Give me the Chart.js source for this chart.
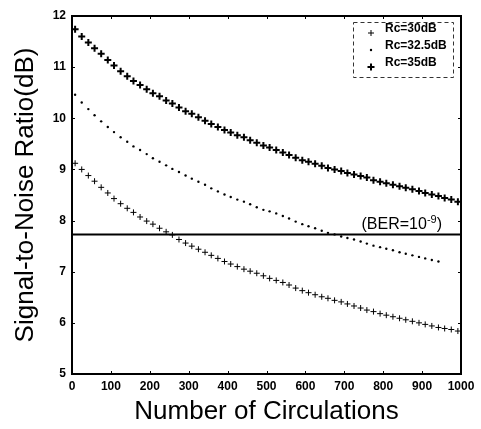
<!DOCTYPE html>
<html>
<head>
<meta charset="utf-8">
<script src="https://cdn.jsdelivr.net/npm/chart.js@4.4.1/dist/chart.umd.min.js"></script>
<style>
body { margin: 0; background: #fff; }
</style>
</head>
<body>
<canvas id="snr-chart" width="481" height="429"></canvas>
<script>
const circulations = [8, 25, 42, 58, 75, 92, 108, 125, 142, 158, 175, 192, 208, 225, 242, 258, 275, 292, 308, 325,
    342, 358, 375, 392, 408, 425, 442, 458, 475, 492, 508, 525, 542, 558, 575, 592, 608, 625, 642, 658,
    675, 692, 708, 725, 742, 758, 775, 792, 808, 825, 842, 858, 875, 892, 908, 925, 942, 958, 975, 992]

const rc30 = [9.12, 9.00, 8.88, 8.77, 8.65, 8.54, 8.43, 8.33, 8.24, 8.16, 8.07, 7.99, 7.93, 7.85, 7.78, 7.72, 7.63, 7.56, 7.50, 7.44,
    7.38, 7.32, 7.26, 7.20, 7.15, 7.10, 7.05, 7.01, 6.97, 6.92, 6.87, 6.83, 6.79, 6.74, 6.68, 6.63, 6.59, 6.55, 6.51, 6.48,
    6.44, 6.41, 6.37, 6.33, 6.29, 6.25, 6.22, 6.18, 6.15, 6.12, 6.09, 6.06, 6.03, 6.00, 5.97, 5.94, 5.91, 5.89, 5.87, 5.84]

const rc325 = [10.46, 10.31, 10.18, 10.06, 9.94, 9.83, 9.73, 9.63, 9.54, 9.45, 9.38, 9.30, 9.22, 9.15, 9.08, 9.01, 8.95, 8.88, 8.82, 8.76,
    8.70, 8.63, 8.57, 8.51, 8.46, 8.41, 8.37, 8.32, 8.26, 8.21, 8.18, 8.14, 8.09, 8.04, 7.98, 7.93, 7.89, 7.85, 7.80, 7.76,
    7.73, 7.69, 7.66, 7.63, 7.59, 7.55, 7.51, 7.48, 7.45, 7.42, 7.38, 7.35, 7.32, 7.29, 7.26, 7.23, 7.20, null, null, null]

const rc35 = [11.74, 11.60, 11.48, 11.37, 11.26, 11.14, 11.03, 10.92, 10.82, 10.73, 10.65, 10.57, 10.49, 10.43, 10.35, 10.29, 10.21, 10.14, 10.09, 10.02,
    9.95, 9.89, 9.83, 9.77, 9.72, 9.67, 9.63, 9.57, 9.52, 9.47, 9.43, 9.38, 9.33, 9.28, 9.23, 9.18, 9.15, 9.11, 9.07, 9.03,
    9.00, 8.97, 8.93, 8.90, 8.87, 8.84, 8.79, 8.76, 8.73, 8.70, 8.67, 8.64, 8.61, 8.58, 8.54, 8.51, 8.48, 8.44, 8.41, 8.37]

const seriesLabels = ['Rc=30dB', 'Rc=32.5dB', 'Rc=35dB']
const berLevel = 7.73
const berRange = [0, 1000]
const xTicks = [0, 100, 200, 300, 400, 500, 600, 700, 800, 900, 1000]
const yTicks = [5, 6, 7, 8, 9, 10, 11, 12]

function points(values){
    const out = []
    for (let i = 0; i < circulations.length; i++){
        if (values[i] !== null) out.push({x: circulations[i], y: values[i]})
    }
    return out
}

const tickFont = {family: "'Liberation Sans', Arial, sans-serif", size: 12, weight: 'bold'}
const titleFont = {family: "'Liberation Sans', Arial, sans-serif", size: 26, weight: 'normal'}

const frameAndLegend = {
    id: 'frameAndLegend',
    afterDraw(chart){
        const ctx = chart.ctx
        const a = chart.chartArea
        const xs = chart.scales.x
        const ys = chart.scales.y
        ctx.save()

        // frame
        ctx.strokeStyle = '#000'
        ctx.lineWidth = 2
        ctx.strokeRect(a.left, a.top, a.right - a.left, a.bottom - a.top)

        // small inward ticks
        ctx.lineWidth = 1
        ctx.beginPath()
        xTicks.forEach(v => {
            const px = Math.round(xs.getPixelForValue(v)) + 0.5
            ctx.moveTo(px, a.bottom); ctx.lineTo(px, a.bottom - 3)
            ctx.moveTo(px, a.top); ctx.lineTo(px, a.top + 3)
        })
        yTicks.forEach(v => {
            const py = Math.round(ys.getPixelForValue(v)) + 0.5
            ctx.moveTo(a.left, py); ctx.lineTo(a.left + 3, py)
            ctx.moveTo(a.right, py); ctx.lineTo(a.right - 3, py)
        })
        ctx.stroke()

        // BER label
        const lineY = ys.getPixelForValue(berLevel)
        const rightX = xs.getPixelForValue(berRange[1]) - 19
        ctx.fillStyle = '#000'
        ctx.textBaseline = 'alphabetic'
        ctx.textAlign = 'left'
        const mainFont = "16px 'Liberation Sans', Arial, sans-serif"
        const supFont = "11px 'Liberation Sans', Arial, sans-serif"
        ctx.font = mainFont
        const w1 = ctx.measureText('(BER=10').width
        const w3 = ctx.measureText(')').width
        ctx.font = supFont
        const w2 = ctx.measureText('-9').width
        const tx = rightX - (w1 + w2 + w3)
        const ty = lineY - 5
        ctx.font = mainFont
        ctx.fillText('(BER=10', tx, ty)
        ctx.font = supFont
        ctx.fillText('-9', tx + w1, ty - 6)
        ctx.font = mainFont
        ctx.fillText(')', tx + w1 + w2, ty)

        // legend box
        const bx = a.right - 108
        const by = a.top + 6
        ctx.strokeStyle = '#333'
        ctx.lineWidth = 1
        ctx.setLineDash([4, 3])
        ctx.strokeRect(bx + 0.5, by + 0.5, 100, 55)
        ctx.setLineDash([])

        ctx.font = "bold 12px 'Liberation Sans', Arial, sans-serif"
        ctx.textBaseline = 'middle'
        chart.data.datasets.slice(0, 3).forEach((ds, i) => {
            const my = by + 11 + i * 17
            const mx = bx + 18
            ctx.strokeStyle = '#000'
            ctx.fillStyle = '#000'
            if (ds.pointStyle === 'cross'){
                const r = ds.pointRadius
                ctx.lineWidth = ds.pointBorderWidth
                ctx.beginPath()
                ctx.moveTo(mx - r, my); ctx.lineTo(mx + r, my)
                ctx.moveTo(mx, my - r); ctx.lineTo(mx, my + r)
                ctx.stroke()
            } else {
                ctx.beginPath()
                ctx.arc(mx, my, ds.pointRadius, 0, Math.PI * 2)
                ctx.fill()
            }
            ctx.fillText(ds.label, bx + 32, my - 4)
        })
        ctx.restore()
    }
}

new Chart(document.getElementById('snr-chart'), {
    type: 'scatter',
    data: {
        datasets: [
            {
                label: seriesLabels[0],
                data: points(rc30),
                pointStyle: 'cross',
                pointRadius: 3,
                pointBorderWidth: 1,
                borderColor: '#000',
                backgroundColor: '#000',
                showLine: false
            },
            {
                label: seriesLabels[1],
                data: points(rc325),
                pointStyle: 'circle',
                pointRadius: 1.2,
                pointBorderWidth: 0,
                borderColor: '#000',
                backgroundColor: '#000',
                showLine: false
            },
            {
                label: seriesLabels[2],
                data: points(rc35),
                pointStyle: 'cross',
                pointRadius: 3.5,
                pointBorderWidth: 2,
                borderColor: '#000',
                backgroundColor: '#000',
                showLine: false
            },
            {
                label: 'BER',
                data: berRange.map(v => ({x: v, y: berLevel})),
                showLine: true,
                borderColor: '#000',
                borderWidth: 2,
                pointRadius: 0
            }
        ]
    },
    options: {
        responsive: false,
        animation: false,
        devicePixelRatio: 1,
        layout: {padding: {top: 16, right: 20, left: 0, bottom: 0}},
        plugins: {
            legend: {display: false},
            tooltip: {enabled: false}
        },
        scales: {
            x: {
                type: 'linear',
                min: 0,
                max: 1000,
                afterFit: scale => { scale.height = 55 },
                afterBuildTicks: scale => { scale.ticks = xTicks.map(v => ({value: v})) },
                grid: {display: false, drawTicks: false},
                border: {display: false},
                ticks: {color: '#000', font: tickFont, padding: 5, maxRotation: 0, autoSkip: false, callback: v => String(v)},
                title: {display: true, text: 'Number of Circulations', color: '#000', font: titleFont, padding: {top: 0, bottom: 2}}
            },
            y: {
                type: 'linear',
                min: 5,
                max: 12,
                afterFit: scale => { scale.width = 72 },
                afterBuildTicks: scale => { scale.ticks = yTicks.map(v => ({value: v})) },
                grid: {display: false, drawTicks: false},
                border: {display: false},
                ticks: {color: '#000', font: tickFont, padding: 6, autoSkip: false, callback: v => String(v)},
                title: {display: true, text: 'Signal-to-Noise Ratio(dB)', color: '#000', font: titleFont, padding: {top: 10, bottom: 0}}
            }
        }
    },
    plugins: [frameAndLegend]
})
</script>
</body>
</html>
